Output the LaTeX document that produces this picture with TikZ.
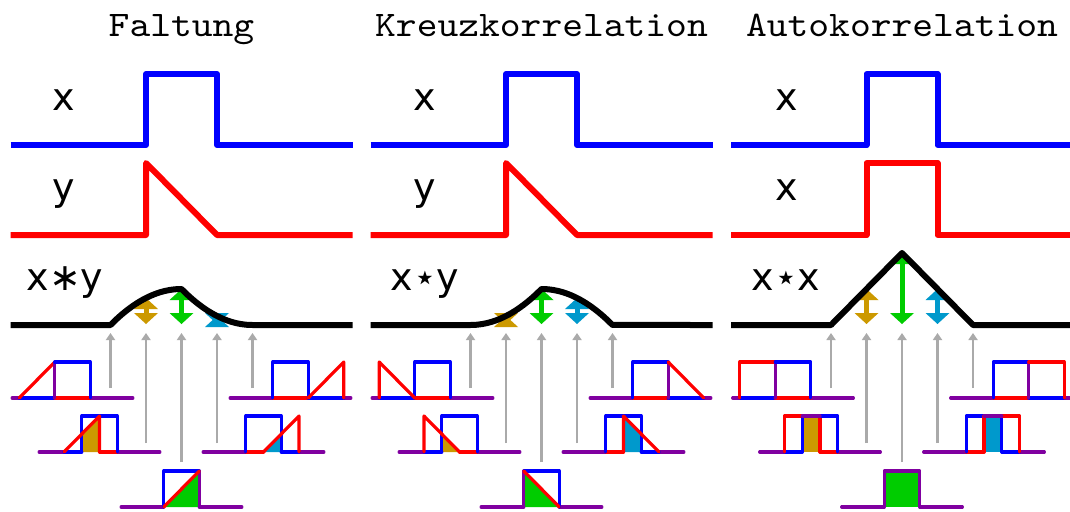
\documentclass[tikz,border=0pt]{standalone}
\usepackage{fontspec}
\newfontfamily\titlefont{lmmono10-regular.otf}[FakeStretch=1.1]
\newfontfamily\labfont{DejaVu Sans}
\usetikzlibrary{arrows.meta}
\definecolor{sigblue}{RGB}{0,0,255}
\definecolor{sigred}{RGB}{255,0,0}
\definecolor{sigpurple}{RGB}{128,0,160}
\definecolor{cgold}{RGB}{204,153,0}
\definecolor{cgreen}{RGB}{0,204,0}
\definecolor{ccyan}{RGB}{0,153,204}
\definecolor{cgray}{RGB}{170,170,170}
\tikzset{
  big/.style={line width=6pt, line join=round},
  sm/.style={line width=3.2pt, line cap=round, line join=round},
  sB/.style={sm, sigblue}, sR/.style={sm, sigred}, sP/.style={sm, sigpurple},
  gr/.style={cgray, line width=2.5pt, -{Triangle[width=9pt,length=7pt]}},
  ttl/.style={anchor=base, font=\titlefont\fontsize{36}{40}\selectfont},
  lab/.style={anchor=base, font=\labfont\fontsize{38}{40}\selectfont},
}
\newcommand{\mysp}[3]{\begin{scope}[shift={(#1,#2)},x=35.5pt,y=36pt]#3\end{scope}}
\newcommand{\mydbl}[3]{%
  \draw[#3, line width=5pt] (#1,{#2+8}) -- (#1,316);
  \fill[#3] (#1,#2) -- ++(-12,11) -- ++(24,0) -- cycle;
  \fill[#3] (#1,324) -- ++(-12,-11) -- ++(24,0) -- cycle;}
\newcommand{\grays}[1]{%
  \foreach \dx/\yb in {-71/388,-35.5/443,0/462,35.5/443,71/388}
    \draw[gr] ({#1+\dx},\yb) -- ({#1+\dx},333);}
\begin{document}
\begin{tikzpicture}[x=1pt,y=-1pt]
\fill[white] (0,0) rectangle (1070,511);
\useasboundingbox (0,0) rectangle (1070,511);

%================ Panel 1: Faltung
\def\pc{181.5}
\node[ttl] (t1) at (\pc,37) {Faltung};
\node[lab] (x1) at (64,110) {x};
\node[lab] (y1) at (64,200) {y};
\node[lab] (r1) at (65,290) {x∗y};
\draw[big, sigblue] ({\pc-171},145) -- ({\pc-35.5},145) -- ({\pc-35.5},74) -- ({\pc+35.5},74) -- ({\pc+35.5},145) -- ({\pc+171},145);
\draw[big, sigred] ({\pc-171},235) -- ({\pc-35.5},235) -- ({\pc-35.5},163) -- ({\pc+35.5},235) -- ({\pc+171},235);
\grays{\pc}
\mydbl{\pc-35.5}{298}{cgold}
\mydbl{\pc}{289}{cgreen}
\mydbl{\pc+35.5}{316}{ccyan}
\draw[big] ({\pc-171},325) -- ({\pc-71},325)
  -- plot[domain=-1:0,samples=25] ({\pc+71*\x},{325-36*(1-\x*\x)})
  -- plot[domain=0:1,samples=25] ({\pc+71*\x},{325-36*(1-\x)*(1-\x)})
  -- ({\pc+171},325);
\mysp{\pc-126.75}{398}{
  \draw[sP] (-1.2,0)--(-1,0) (1,0)--(2.2,0);
  \draw[sB] (-1,0)--(0,0);
  \draw[sR] (0,0)--(1,0);
  \draw[sR] (-1,0)--(0,1);
  \draw[sP] (0,0)--(0,1);
  \draw[sB] (0,1)--(1,1)--(1,0);}
\mysp{\pc-99.75}{452}{
  \fill[cgold] (0,0)--(0,0.5)--(0.5,1)--(0.5,0)--cycle;
  \draw[sP] (-1.2,0)--(-0.5,0) (1,0)--(2.2,0);
  \draw[sB] (-0.5,0)--(0,0);
  \draw[sR] (0.5,0)--(1,0);
  \draw[sB] (0,0)--(0,1)--(1,1)--(1,0);
  \draw[sR] (-0.5,0)--(0.5,1)--(0.5,0);}
\mysp{\pc-17.75}{507}{
  \fill[cgreen] (0,0)--(1,1)--(1,0)--cycle;
  \draw[sP] (-1.2,0)--(0,0) (1,0)--(2.2,0);
  \draw[sB] (0,0)--(0,1)--(1,1);
  \draw[sP] (1,0)--(1,1);
  \draw[sR] (0,0)--(1,1);}
\mysp{\pc+64.25}{452}{
  \fill[ccyan] (0.5,0)--(1,0.5)--(1,0)--cycle;
  \draw[sP] (-1.2,0)--(0,0) (1.5,0)--(2.2,0);
  \draw[sR] (0,0)--(0.5,0);
  \draw[sB] (1,0)--(1.5,0);
  \draw[sB] (0,0)--(0,1)--(1,1)--(1,0);
  \draw[sR] (0.5,0)--(1.5,1)--(1.5,0);}
\mysp{\pc+91.25}{398}{
  \draw[sP] (-1.2,0)--(0,0) (2,0)--(2.2,0);
  \draw[sR] (0,0)--(1,0);
  \draw[sB] (1,0)--(2,0);
  \draw[sB] (0,0)--(0,1)--(1,1)--(1,0);
  \draw[sR] (1,0)--(2,1)--(2,0);}

%================ Panel 2: Kreuzkorrelation
\def\pc{541.5}
\node[ttl] (t2) at (\pc,37) {Kreuzkorrelation};
\node[lab] (x2) at (425,110) {x};
\node[lab] (y2) at (425,200) {y};
\node[lab] (r2) at (425,290) {x⋆y};
\draw[big, sigblue] ({\pc-171},145) -- ({\pc-35.5},145) -- ({\pc-35.5},74) -- ({\pc+35.5},74) -- ({\pc+35.5},145) -- ({\pc+171},145);
\draw[big, sigred] ({\pc-171},235) -- ({\pc-35.5},235) -- ({\pc-35.5},163) -- ({\pc+35.5},235) -- ({\pc+171},235);
\grays{\pc}
\mydbl{\pc-35.5}{316}{cgold}
\mydbl{\pc}{289}{cgreen}
\mydbl{\pc+35.5}{298}{ccyan}
\draw[big] ({\pc-171},325) -- ({\pc-71},325)
  -- plot[domain=-1:0,samples=25] ({\pc+71*\x},{325-36*(1+\x)*(1+\x)})
  -- plot[domain=0:1,samples=25] ({\pc+71*\x},{325-36*(1-\x*\x)})
  -- ({\pc+171},325);
\mysp{\pc-126.75}{398}{
  \draw[sP] (-1.2,0)--(-1,0) (1,0)--(2.2,0);
  \draw[sB] (-1,0)--(0,0);
  \draw[sR] (0,0)--(1,0);
  \draw[sB] (0,0)--(0,1)--(1,1)--(1,0);
  \draw[sR] (-1,0)--(-1,1)--(0,0);}
\mysp{\pc-99.75}{452}{
  \fill[cgold] (0,0)--(0,0.5)--(0.5,0)--cycle;
  \draw[sP] (-1.2,0)--(-0.5,0) (1,0)--(2.2,0);
  \draw[sB] (-0.5,0)--(0,0);
  \draw[sR] (0.5,0)--(1,0);
  \draw[sB] (0,0)--(0,1)--(1,1)--(1,0);
  \draw[sR] (-0.5,0)--(-0.5,1)--(0.5,0);}
\mysp{\pc-17.75}{507}{
  \fill[cgreen] (0,0)--(0,1)--(1,0)--cycle;
  \draw[sP] (-1.2,0)--(0,0) (1,0)--(2.2,0);
  \draw[sB] (0,1)--(1,1)--(1,0);
  \draw[sP] (0,0)--(0,1);
  \draw[sR] (0,1)--(1,0);}
\mysp{\pc+64.25}{452}{
  \fill[ccyan] (0.5,0)--(0.5,1)--(1,0.5)--(1,0)--cycle;
  \draw[sP] (-1.2,0)--(0,0) (1.5,0)--(2.2,0);
  \draw[sR] (0,0)--(0.5,0);
  \draw[sB] (1,0)--(1.5,0);
  \draw[sB] (0,0)--(0,1)--(1,1)--(1,0);
  \draw[sR] (0.5,0)--(0.5,1)--(1.5,0);}
\mysp{\pc+91.25}{398}{
  \draw[sP] (-1.2,0)--(0,0) (2,0)--(2.2,0);
  \draw[sR] (0,0)--(1,0);
  \draw[sB] (1,0)--(2,0);
  \draw[sB] (0,0)--(0,1)--(1,1);
  \draw[sP] (1,0)--(1,1);
  \draw[sR] (1,1)--(2,0);}

%================ Panel 3: Autokorrelation
\def\pc{902}
\node[ttl] (t3) at (\pc,37) {Autokorrelation};
\node[lab] (x3) at (787,110) {x};
\node[lab] (y3) at (787,200) {x};
\node[lab] (r3) at (786,290) {x⋆x};
\draw[big, sigblue] ({\pc-171},145) -- ({\pc-35.5},145) -- ({\pc-35.5},74) -- ({\pc+35.5},74) -- ({\pc+35.5},145) -- ({\pc+171},145);
\draw[big, sigred] ({\pc-171},235) -- ({\pc-35.5},235) -- ({\pc-35.5},163) -- ({\pc+35.5},163) -- ({\pc+35.5},235) -- ({\pc+171},235);
\grays{\pc}
\mydbl{\pc-35.5}{289}{cgold}
\mydbl{\pc}{253}{cgreen}
\mydbl{\pc+35.5}{289}{ccyan}
\draw[big] ({\pc-171},325) -- ({\pc-71},325) -- (\pc,253) -- ({\pc+71},325) -- ({\pc+171},325);
\mysp{\pc-126.75}{398}{
  \draw[sP] (-1.2,0)--(-1,0) (1,0)--(2.2,0);
  \draw[sB] (-1,0)--(0,0);
  \draw[sR] (0,0)--(1,0);
  \draw[sR] (-1,0)--(-1,1)--(0,1);
  \draw[sP] (0,0)--(0,1);
  \draw[sB] (0,1)--(1,1)--(1,0);}
\mysp{\pc-99.75}{452}{
  \fill[cgold] (0,0) rectangle (0.5,1);
  \draw[sP] (-1.2,0)--(-0.5,0) (1,0)--(2.2,0);
  \draw[sB] (-0.5,0)--(0,0);
  \draw[sR] (0.5,0)--(1,0);
  \draw[sR] (-0.5,0)--(-0.5,1)--(0,1);
  \draw[sB] (0,0)--(0,1);
  \draw[sR] (0.5,1)--(0.5,0);
  \draw[sB] (0.5,1)--(1,1)--(1,0);
  \draw[sP] (0,1)--(0.5,1);}
\mysp{\pc-17.75}{507}{
  \fill[cgreen] (0,0) rectangle (1,1);
  \draw[sP] (-1.2,0)--(0,0)--(0,1)--(1,1)--(1,0)--(2.2,0);}
\mysp{\pc+64.25}{452}{
  \fill[ccyan] (0.5,0) rectangle (1,1);
  \draw[sP] (-1.2,0)--(0,0) (1.5,0)--(2.2,0);
  \draw[sR] (0,0)--(0.5,0);
  \draw[sB] (1,0)--(1.5,0);
  \draw[sB] (0,0)--(0,1)--(0.5,1);
  \draw[sR] (0.5,0)--(0.5,1);
  \draw[sB] (1,1)--(1,0);
  \draw[sR] (1,1)--(1.5,1)--(1.5,0);
  \draw[sP] (0.5,1)--(1,1);}
\mysp{\pc+91.25}{398}{
  \draw[sP] (-1.2,0)--(0,0) (2,0)--(2.2,0);
  \draw[sR] (0,0)--(1,0);
  \draw[sB] (1,0)--(2,0);
  \draw[sB] (0,0)--(0,1)--(1,1);
  \draw[sP] (1,0)--(1,1);
  \draw[sR] (1,1)--(2,1)--(2,0);}
\end{tikzpicture}
\end{document}
